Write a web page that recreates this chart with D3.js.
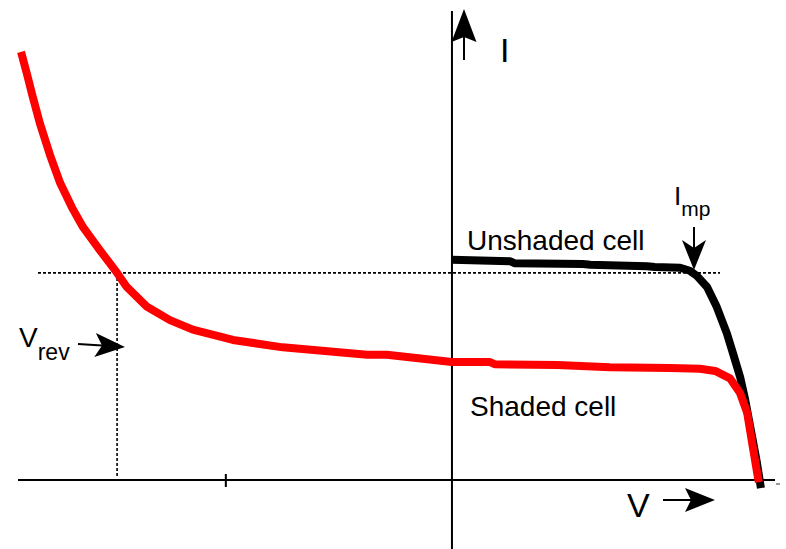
<!DOCTYPE html>
<html>
<head>
<meta charset="utf-8">
<script src="https://cdn.jsdelivr.net/npm/d3@7"></script>
<style>
  html, body { margin: 0; padding: 0; background: #fff; }
  svg { display: block; font-family: "Liberation Sans", Arial, sans-serif; }
</style>
</head>
<body>
<svg id="chart" width="786" height="549"></svg>
<script>
// ---- Data (V in volts, I in amps) ----
const shadedV = [-0.848, -0.836, -0.825, -0.811, -0.791, -0.771, -0.748, -0.726, -0.693, -0.659,
  -0.640, -0.600, -0.555, -0.510, -0.431, -0.333, -0.167, -0.128, 0.000, 0.075,
  0.085, 0.207, 0.311, 0.429, 0.488, 0.518, 0.547, 0.567, 0.581, 0.592, 0.602, 0.604];
const shadedI = [5.81, 5.50, 5.20, 4.84, 4.41, 4.03, 3.70, 3.43, 3.12, 2.81,
  2.62, 2.35, 2.17, 2.04, 1.90, 1.80, 1.70, 1.70, 1.60, 1.60,
  1.57, 1.56, 1.53, 1.52, 1.51, 1.48, 1.38, 1.18, 0.91, 0.45, 0.04, -0.03];
const unshadedV = [0.000, 0.114, 0.124, 0.258, 0.272, 0.384, 0.399, 0.449, 0.468, 0.482,
  0.502, 0.521, 0.541, 0.553, 0.567, 0.577, 0.590, 0.600, 0.608];
const unshadedI = [2.99, 2.97, 2.94, 2.93, 2.92, 2.90, 2.89, 2.88, 2.84, 2.77,
  2.62, 2.35, 1.99, 1.72, 1.40, 1.09, 0.61, 0.24, -0.11];
const Imp = 2.81;        // dashed horizontal level
const Vrev = -0.659;     // dashed vertical position
const tickValuesV = [-0.445];
const labels = { unshaded: "Unshaded cell", shaded: "Shaded cell", I: "I", V: "V" };

// ---- Scales ----
const x = d3.scaleLinear().domain([-0.854, 0.618]).range([18, 766]);
const y = d3.scaleLinear().domain([0, 6.5]).range([480, 1]);

const svg = d3.select("#chart");

// Axes
svg.append("line").attr("x1", x(0)).attr("x2", x(0)).attr("y1", 11).attr("y2", 549)
  .attr("stroke", "#000").attr("stroke-width", 2);
svg.append("line").attr("x1", 18).attr("x2", 775).attr("y1", y(0)).attr("y2", y(0))
  .attr("stroke", "#000").attr("stroke-width", 2);
svg.selectAll("line.tick").data(tickValuesV).enter().append("line").attr("class", "tick")
  .attr("x1", d => x(d)).attr("x2", d => x(d)).attr("y1", y(0) - 6).attr("y2", y(0) + 7)
  .attr("stroke", "#000").attr("stroke-width", 2);
svg.append("line").attr("x1", 776).attr("x2", 780).attr("y1", 484).attr("y2", 484)
  .attr("stroke", "#555").attr("stroke-width", 1.2);

// Dashed guide lines
svg.append("line").attr("x1", 38).attr("x2", 720).attr("y1", y(Imp)).attr("y2", y(Imp))
  .attr("stroke", "#000").attr("stroke-width", 1.6).attr("stroke-dasharray", "3,2");
svg.append("line").attr("x1", x(Vrev)).attr("x2", x(Vrev)).attr("y1", y(Imp)).attr("y2", 478)
  .attr("stroke", "#000").attr("stroke-width", 1.6).attr("stroke-dasharray", "3,2");

// Curves
const line = d3.line().x(d => x(d[0])).y(d => y(d[1]));
const unshaded = unshadedV.map((v, i) => [v, unshadedI[i]]);
const shaded = shadedV.map((v, i) => [v, shadedI[i]]);
svg.append("path").datum(unshaded).attr("d", line).attr("fill", "none")
  .attr("stroke", "#000").attr("stroke-width", 8).attr("stroke-linejoin", "round");
svg.append("path").datum(shaded).attr("d", line).attr("fill", "none")
  .attr("stroke", "#ff0000").attr("stroke-width", 8).attr("stroke-linejoin", "round");

// Arrow helper: shaft + filled notched head
function arrow(x1, y1, x2, y2, len, half, notch) {
  const a = Math.atan2(y2 - y1, x2 - x1);
  const c = Math.cos(a), s = Math.sin(a);
  const bx = x2 - len * c, by = y2 - len * s;
  const nx = x2 - (len - notch) * c, ny = y2 - (len - notch) * s;
  svg.append("line").attr("x1", x1).attr("y1", y1).attr("x2", nx).attr("y2", ny)
    .attr("stroke", "#000").attr("stroke-width", 2);
  const pts = [[x2, y2], [bx - half * s, by + half * c], [nx, ny], [bx + half * s, by - half * c]];
  svg.append("path").attr("d", "M" + pts.map(p => p.join(",")).join("L") + "Z").attr("fill", "#000");
}

// Y arrow and label
arrow(464, 60, 464, 9, 33, 12.5, 5);
svg.append("text").attr("x", 500).attr("y", 62).attr("font-size", 34).text(labels.I);

// V arrow and label
arrow(663, 500, 715, 500, 30, 12, 6);
svg.append("text").attr("x", 627).attr("y", 517).attr("font-size", 34).text(labels.V);

// Imp label and arrow
const imp = svg.append("text").attr("x", 674).attr("y", 205).attr("font-size", 26);
imp.append("tspan").text("I");
imp.append("tspan").attr("dy", 11).attr("font-size", 21).text("mp");
arrow(694, 227, 694, 270, 30, 12, 8);

// Vrev label and arrow
const vrev = svg.append("text").attr("x", 19).attr("y", 347).attr("font-size", 28);
vrev.append("tspan").text("V");
vrev.append("tspan").attr("dy", 13).attr("font-size", 23).text("rev");
arrow(78, 344, 125, 347, 30, 12, 7);

// Curve labels
svg.append("text").attr("x", 467).attr("y", 250).attr("font-size", 28).text(labels.unshaded);
svg.append("text").attr("x", 470).attr("y", 416).attr("font-size", 28).text(labels.shaded);
</script>
</body>
</html>
